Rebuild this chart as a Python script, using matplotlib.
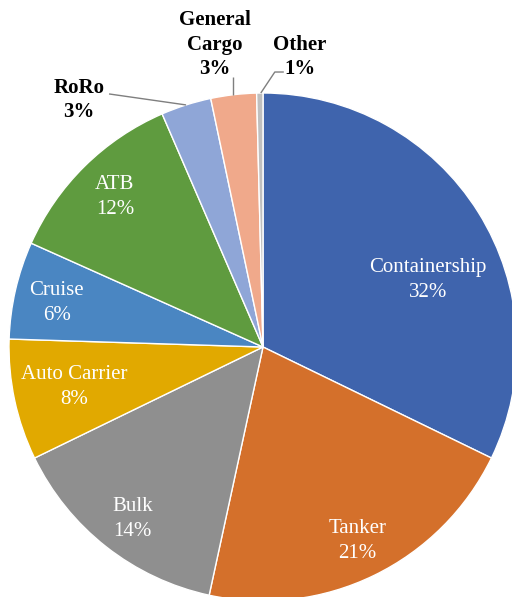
import numpy as np
import matplotlib
matplotlib.use('Agg')
import matplotlib.pyplot as plt

# vessel types, clockwise from 12 o'clock
labels = ['Containership', 'Tanker', 'Bulk', 'Auto Carrier', 'Cruise', 'ATB',
          'RoRo', 'General\nCargo', 'Other']
shares = [32.2, 21.2, 14.4, 7.7, 6.2, 11.8, 3.2, 2.9, 0.4]
pct_text = ['32%', '21%', '14%', '8%', '6%', '12%', '3%', '3%', '1%']
colors = ['#3f64ad', '#d4702b', '#8f8f8f', '#e1a900', '#4a86c2', '#5f9b3f',
          '#8fa6d7', '#f0a98b', '#bfbfbf']

plt.rcParams['font.family'] = ['Liberation Serif', 'DejaVu Serif']

fig = plt.figure(figsize=(5.12, 5.97), dpi=100)
ax = fig.add_axes([0, 0, 1, 1])

cx, cy, rad = 263, 250, 254
wedges, _ = ax.pie(shares, colors=colors, startangle=90, counterclock=False,
                   center=(cx, cy), radius=rad,
                   wedgeprops=dict(edgecolor='white', linewidth=1))
ax.set_xlim(0, 512)
ax.set_ylim(0, 597)
ax.set_aspect('equal')
ax.axis('off')

def polar(ang, r):
    a = np.deg2rad(ang)
    return cx + r * np.cos(a), cy + r * np.sin(a)

# labels inside the big slices
in_r = [0.70, 0.85, 0.85, 0.76, 0.83, 0.83]
in_shift = [-10, 0, 1, 0, 1, 0]
for i in range(6):
    w = wedges[i]
    mid = (w.theta1 + w.theta2) / 2 + in_shift[i]
    x, y = polar(mid, in_r[i] * rad)
    ax.text(x, y, labels[i] + '\n' + pct_text[i], ha='center', va='center',
            color='white', fontsize=15, linespacing=1.42)

# small slices: bold labels outside with leader lines
# (text offset, leader path offsets) relative to the slice's edge point
out_text = {6: (-107, 5), 7: (-19, 50), 8: (40, 36)}
out_lead = {6: [(-77, 11), (0, 0)],
            7: [(-1, 18), (-1, 0)],
            8: [(24, 21), (15, 21), (1, 0)]}
for i in (6, 7, 8):
    w = wedges[i]
    mid = (w.theta1 + w.theta2) / 2
    ex, ey = polar(mid, rad)
    pts = np.array(out_lead[i], dtype=float)
    ax.plot(ex + pts[:, 0], ey + pts[:, 1], color='#7f7f7f', lw=1,
            solid_capstyle='butt')
    tx, ty = out_text[i]
    ax.text(ex + tx, ey + ty, labels[i] + '\n' + pct_text[i], ha='center',
            va='center', color='black', fontsize=15, fontweight='bold',
            linespacing=1.3)

fig.savefig('out.png', dpi=100)
